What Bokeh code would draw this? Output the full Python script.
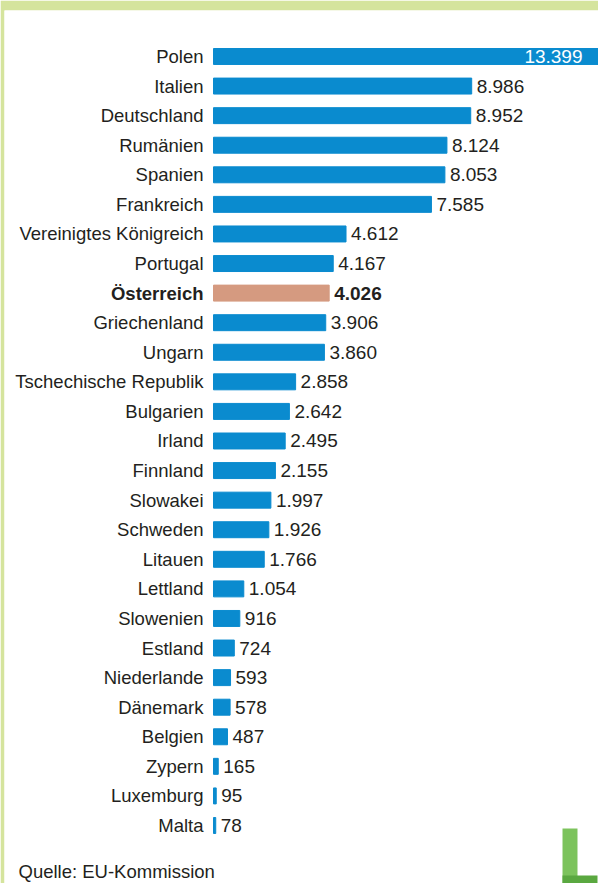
from bokeh.plotting import figure
from bokeh.models import ColumnDataSource, Range1d, Label, BoxAnnotation
from bokeh.embed import file_html
from bokeh.resources import INLINE
from bokeh.core.properties import value

countries = ["Polen", "Italien", "Deutschland", "Rumänien", "Spanien", "Frankreich",
             "Vereinigtes Königreich", "Portugal", "Österreich", "Griechenland", "Ungarn",
             "Tschechische Republik", "Bulgarien", "Irland", "Finnland", "Slowakei",
             "Schweden", "Litauen", "Lettland", "Slowenien", "Estland", "Niederlande",
             "Dänemark", "Belgien", "Zypern", "Luxemburg", "Malta"]
values = [13399, 8986, 8952, 8124, 8053, 7585, 4612, 4167, 4026, 3906, 3860, 2858,
          2642, 2495, 2155, 1997, 1926, 1766, 1054, 916, 724, 593, 578, 487, 165, 95, 78]
highlight = "Österreich"
source_note = "Quelle: EU-Kommission"

BLUE = "#0a8bcf"
SALMON = "#d59a80"
GREEN_BORDER = "#d5e49d"
TEXT = "#231f20"
FONT = value("Liberation Sans")
FS_LAB = "18.5px"
FS_NUM = "19px"

idx = list(range(len(countries)))
labels = [f"{v:,}".replace(",", ".") for v in values]
is_hl = [c == highlight for c in countries]
colors = [SALMON if h else BLUE for h in is_hl]
styles = ["bold" if h else "normal" for h in is_hl]

src = ColumnDataSource(dict(y=idx, v=values, name=countries, lab=labels,
                            color=colors, style=styles))
out_idx = [i for i in idx if values[i] != max(values)]
in_idx = [i for i in idx if values[i] == max(values)]
src_out = ColumnDataSource(dict(y=[idx[i] for i in out_idx], v=[values[i] for i in out_idx],
                                lab=[labels[i] for i in out_idx], style=[styles[i] for i in out_idx]))
src_in = ColumnDataSource(dict(y=[idx[i] for i in in_idx], v=[values[i] for i in in_idx],
                               lab=[labels[i] for i in in_idx]))

p = figure(width=598, height=883, output_backend="svg", toolbar_location=None,
           x_range=Range1d(-7274, 13399), y_range=Range1d(27.961, -1.555),
           min_border_left=4, min_border_top=10, min_border_right=0, min_border_bottom=0)
p.axis.visible = False
p.grid.visible = False
p.outline_line_color = None
p.border_fill_color = GREEN_BORDER
p.background_fill_color = "white"

p.hbar(y="y", left=0, right="v", height=0.54, color="color", source=src)

p.text(x=0, y="y", text="name", source=src, x_offset=-10, text_align="right",
       text_baseline="middle", text_font=FONT, text_font_size=FS_LAB,
       text_font_style="style", text_color=TEXT)
p.text(x="v", y="y", text="lab", source=src_out, x_offset=5, text_align="left",
       text_baseline="middle", text_font=FONT, text_font_size=FS_NUM,
       text_font_style="style", text_color=TEXT)
p.text(x="v", y="y", text="lab", source=src_in, x_offset=-16, text_align="right",
       text_baseline="middle", text_font=FONT, text_font_size=FS_NUM,
       text_color="white")

p.add_layout(Label(x=14, y=12, x_units="screen", y_units="screen", text=source_note,
                   text_font="Liberation Sans", text_font_size=FS_LAB, text_color=TEXT,
                   text_baseline="middle"))

# decorative "L" logo
p.add_layout(BoxAnnotation(left=558, right=573, top=55, bottom=0, left_units="screen",
                           right_units="screen", top_units="screen", bottom_units="screen",
                           fill_color="#7cc35c", fill_alpha=1, line_color=None))
p.add_layout(BoxAnnotation(left=558, right=593, top=8, bottom=0, left_units="screen",
                           right_units="screen", top_units="screen", bottom_units="screen",
                           fill_color="#5aa840", fill_alpha=1, line_color=None))

open("out.html", "w").write(file_html(p, INLINE))
